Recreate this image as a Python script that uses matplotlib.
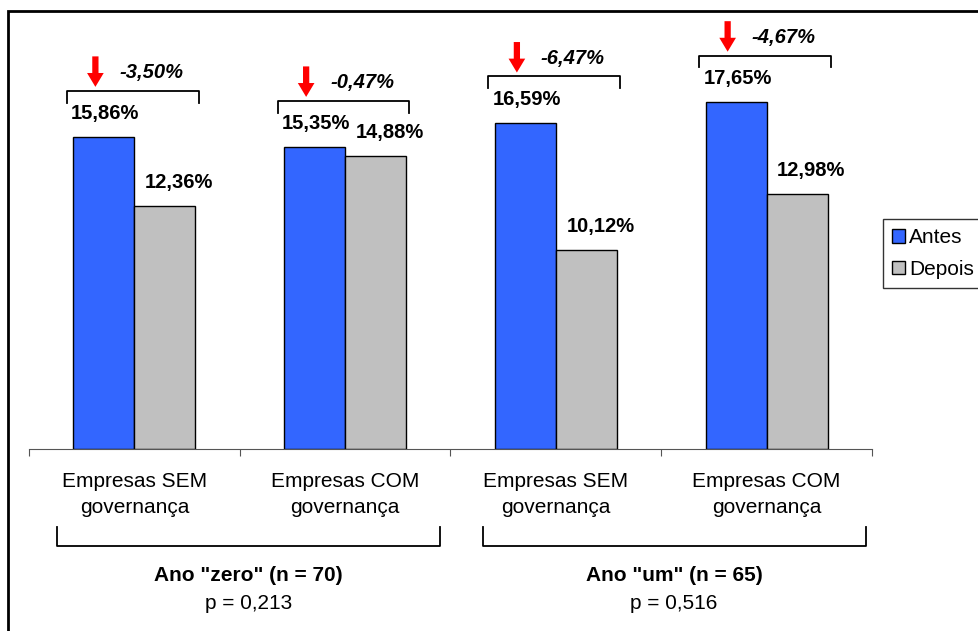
import matplotlib.pyplot as plt
from matplotlib.patches import Rectangle

plt.rcParams['font.family'] = ['Liberation Sans', 'DejaVu Sans']

# dados
categorias = ["Empresas SEM\ngovernança", "Empresas COM\ngovernança",
              "Empresas SEM\ngovernança", "Empresas COM\ngovernança"]
antes = [15.86, 15.35, 16.59, 17.65]
depois = [12.36, 14.88, 10.12, 12.98]
variacao = ["-3,50%", "-0,47%", "-6,47%", "-4,67%"]
grupos = ['Ano "zero" (n = 70)', 'Ano "um" (n = 65)']
p_valores = ["p = 0,213", "p = 0,516"]
series = ["Antes", "Depois"]

AZUL = "#3366FF"
CINZA = "#C0C0C0"
W, H = 979, 631


def fmt(v):
    return f"{v:.2f}".replace(".", ",") + "%"


fig = plt.figure(figsize=(W / 100, H / 100), dpi=100)
# area do grafico em pixels: x 29..872, eixo em y=449
ax_left, ax_right, ax_base = 29, 872, 449
ymax = 22.0
escala = 19.67
ax_h = ymax * escala
ax = fig.add_axes([ax_left / W, (H - ax_base) / H, (ax_right - ax_left) / W, ax_h / H])

x = list(range(len(categorias)))
larg = 0.29
ax.bar([i - larg / 2 for i in x], antes, larg, color=AZUL, edgecolor="black", linewidth=1, label=series[0])
ax.bar([i + larg / 2 for i in x], depois, larg, color=CINZA, edgecolor="black", linewidth=1, label=series[1])

ax.set_xlim(-0.5, 3.5)
ax.set_ylim(0, ymax)
for s in ["top", "right", "left"]:
    ax.spines[s].set_visible(False)
ax.spines["bottom"].set_color("#555555")
ax.set_yticks([])
ax.set_xticks([-0.5, 0.5, 1.5, 2.5, 3.5])
ax.set_xticklabels([])
ax.tick_params(axis="x", length=5, color="#555555")

for i in x:
    ax.text(i, -2.3, categorias[i], ha="center", va="center", fontsize=15,
            linespacing=1.45, clip_on=False)
    # rotulos das barras
    ax.annotate(fmt(antes[i]), (i - larg / 2, antes[i]), xytext=(1, 17), textcoords="offset points",
                ha="center", va="center", fontsize=14.5, fontweight="bold")
    ax.annotate(fmt(depois[i]), (i + larg / 2, depois[i]), xytext=(10, 17), textcoords="offset points",
                ha="center", va="center", fontsize=14.5, fontweight="bold")
    # colchete de variacao
    yb = antes[i] + 2.35
    x0 = i - larg - 0.03
    x1 = i + larg + 0.015
    ax.plot([x0, x0, x1, x1], [yb - 0.6, yb, yb, yb - 0.6], color="black", lw=1.3, clip_on=False)
    ax.text(i + 0.08, yb + 0.92, variacao[i], ha="center", va="center", fontsize=14.5,
            fontweight="bold", style="italic")
    xa = i - larg / 2 - 0.04
    ax.annotate("", xy=(xa, yb + 0.2), xytext=(xa, yb + 1.75),
                arrowprops=dict(arrowstyle="simple,head_length=1.0,head_width=1.2,tail_width=0.45",
                                color="red", lw=0, shrinkA=0, shrinkB=0))

# colchetes dos grupos
for (g0, g1), nome, p in zip([(-0.367, 1.448), (1.652, 3.47)], grupos, p_valores):
    ax.plot([g0, g0, g1, g1], [-3.97, -4.93, -4.93, -3.97], color="black", lw=1.3, clip_on=False)
    xc = (g0 + g1) / 2
    ax.text(xc, -6.45, nome, ha="center", va="center", fontsize=15, fontweight="bold")
    ax.text(xc, -7.83, p, ha="center", va="center", fontsize=15)

leg = fig.legend(loc="upper left", bbox_to_anchor=(883 / W, 1 - 219 / H), frameon=True,
                 fancybox=False, edgecolor="black", fontsize=15, handlelength=0.6,
                 handleheight=0.6, handletextpad=0.2, borderpad=0.45, labelspacing=0.6,
                 borderaxespad=0)
leg.get_frame().set_linewidth(1)

# moldura externa
fig.add_artist(Rectangle((8 / W, -0.1), 1.2, (H - 11) / H + 0.1, transform=fig.transFigure,
                         fill=False, edgecolor="black", linewidth=2))

fig.savefig("out.png", dpi=100)
